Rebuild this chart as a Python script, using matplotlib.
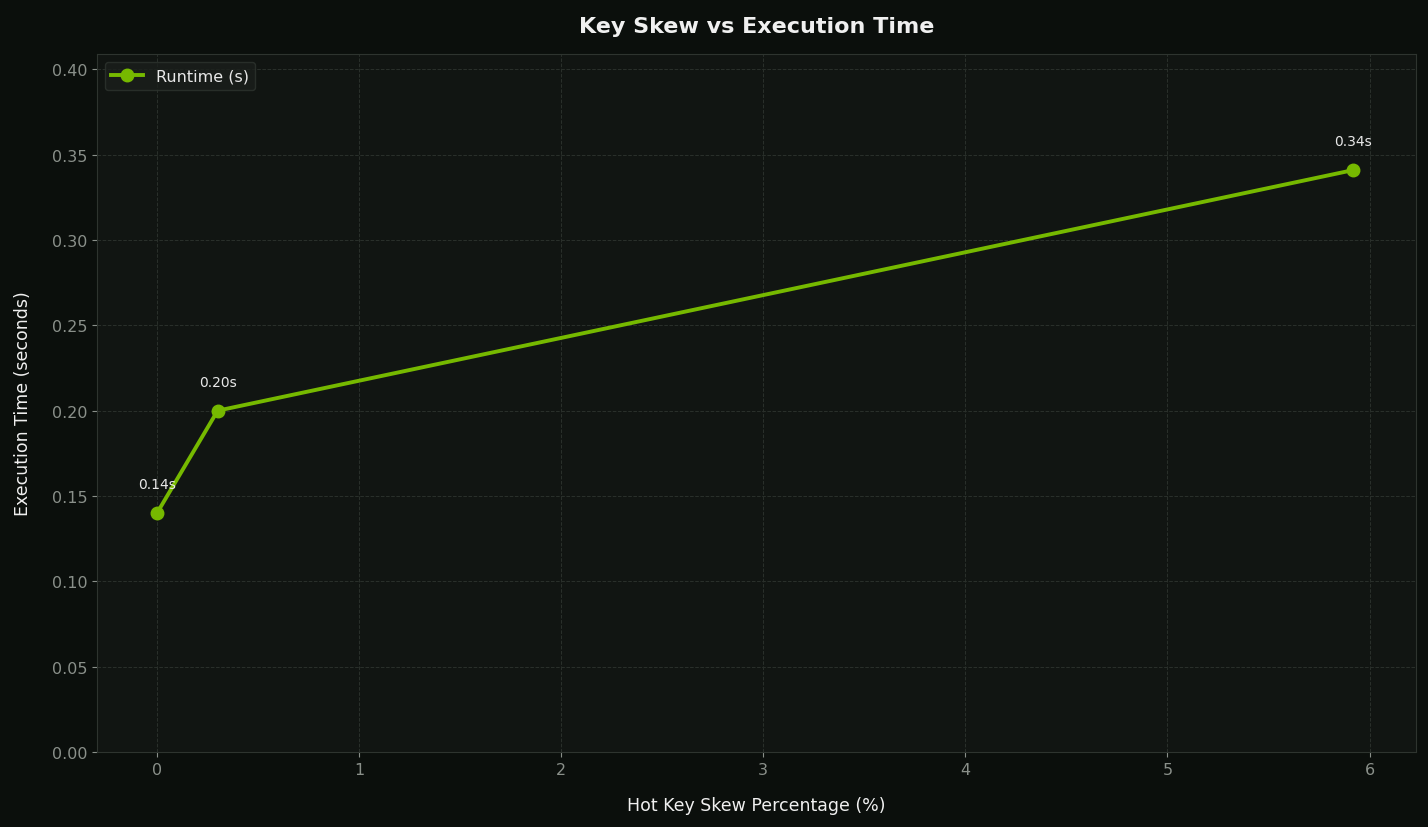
import matplotlib
matplotlib.use("Agg")
import matplotlib.pyplot as plt

skew_pct = [0.0, 0.3, 5.92]
runtime_s = [0.14, 0.20, 0.341]
labels = ["0.14s", "0.20s", "0.34s"]

fig = plt.figure(figsize=(14.28, 8.28), dpi=100, facecolor="#0b0f0c")
ax = fig.add_axes([97 / 1428, 1 - 753 / 828, (1416 - 97) / 1428, (753 - 55) / 828])
ax.set_facecolor("#111512")

ax.plot(skew_pct, runtime_s, color="#76b900", lw=2.8, marker="o", ms=9, label="Runtime (s)")
for x, y, t in zip(skew_pct, runtime_s, labels):
    ax.annotate(t, (x, y), xytext=(0, 18), textcoords="offset points",
                ha="center", color="#e8e8e8", fontsize=10)

ax.set_xlim(-0.297, 6.23)
ax.set_ylim(0, 0.409)
ax.set_yticks([0.0, 0.05, 0.10, 0.15, 0.20, 0.25, 0.30, 0.35, 0.40])
ax.yaxis.set_major_formatter(matplotlib.ticker.FormatStrFormatter("%.2f"))
ax.grid(True, color="#2a302b", ls="--", lw=0.7)
for s in ax.spines.values():
    s.set_color("#2e342f")
ax.tick_params(colors="#8a908a", labelsize=11.5)

ax.set_title("Key Skew vs Execution Time", color="#f0f0f0", fontsize=16,
             fontweight="bold", pad=16)
ax.set_xlabel("Hot Key Skew Percentage (%)", color="#f0f0f0", fontsize=12.5, labelpad=14)
ax.set_ylabel("Execution Time (seconds)", color="#f0f0f0", fontsize=12.5, labelpad=14)

leg = ax.legend(loc="upper left", facecolor="#1a1f1b", edgecolor="#2e342f",
                fontsize=11.5, labelcolor="#e8e8e8")

fig.savefig("out.png", dpi=100, facecolor=fig.get_facecolor())
